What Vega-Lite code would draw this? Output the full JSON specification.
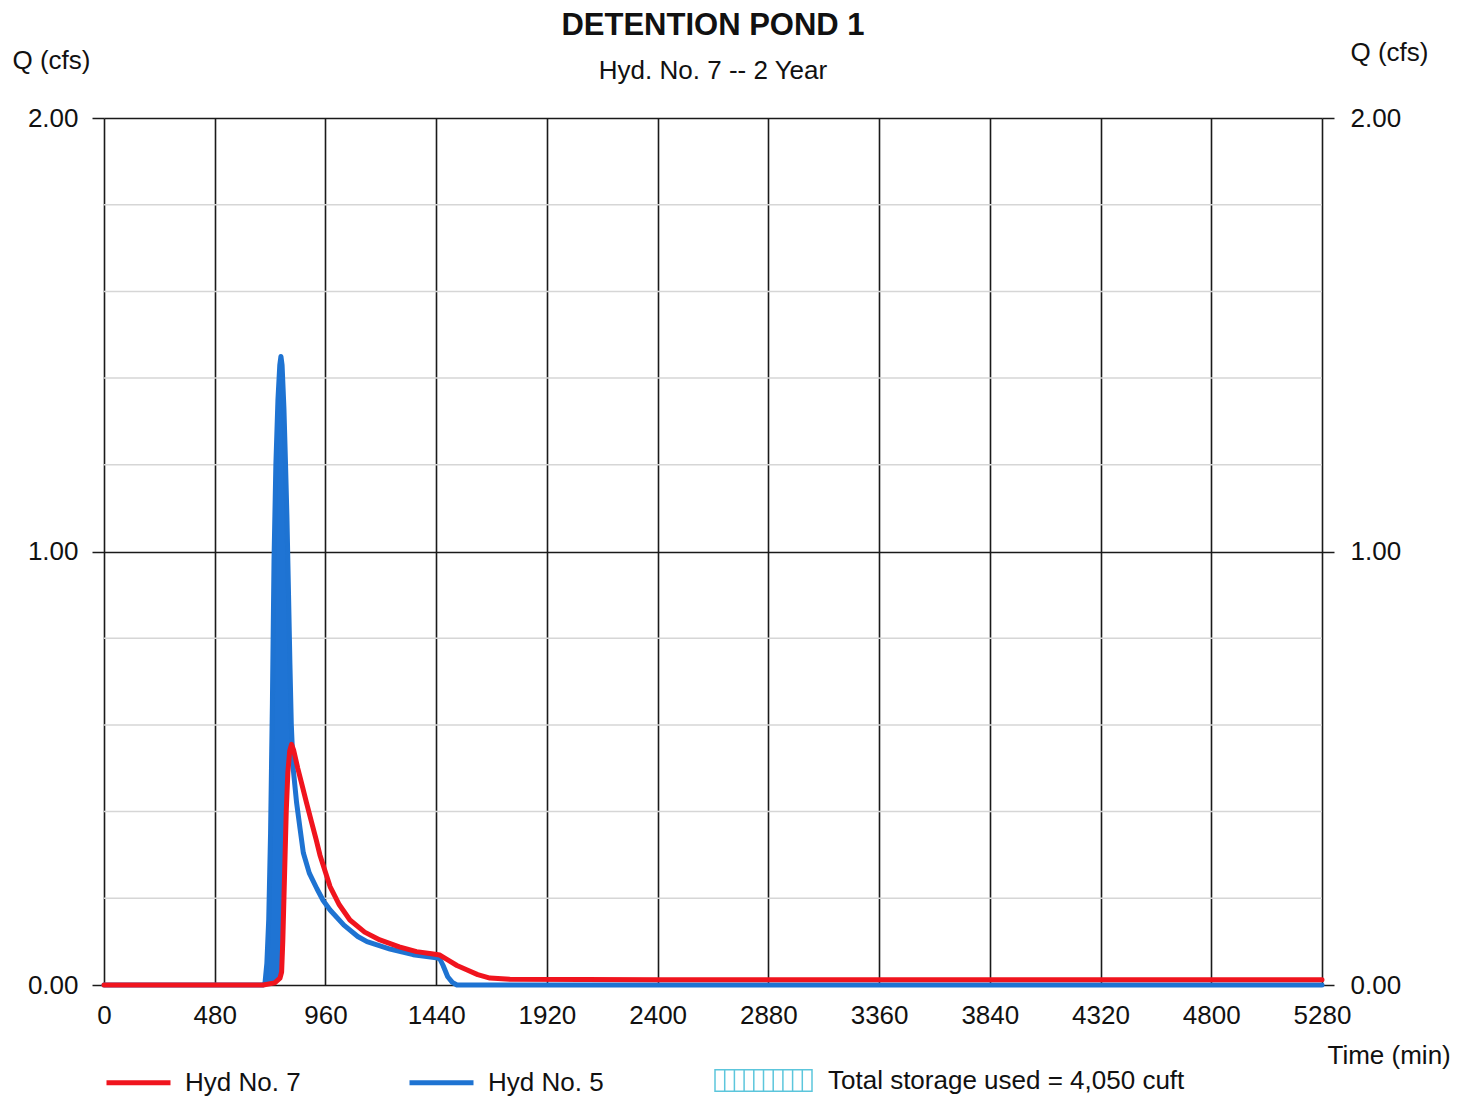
{
  "$schema": "https://vega.github.io/schema/vega-lite/v6.json",
  "width": 1218,
  "height": 867,
  "autosize": {"type": "none"},
  "padding": {"left": 104, "top": 118, "right": 146, "bottom": 112},
  "background": "white",
  "config": {
    "font": "Liberation Sans",
    "view": {"stroke": null},
    "axis": {"labelFont": "Liberation Sans", "titleFont": "Liberation Sans", "labelColor": "#111", "titleColor": "#111", "labelFontSize": 26, "titleFontSize": 26, "titleFontWeight": "normal"}
  },
  "title": {
    "text": "DETENTION POND 1",
    "subtitle": "Hyd. No. 7 -- 2 Year",
    "anchor": "middle",
    "font": "Liberation Sans",
    "fontSize": 31,
    "fontWeight": "bold",
    "color": "#111",
    "subtitleFont": "Liberation Sans",
    "subtitleFontSize": 26,
    "subtitleColor": "#111",
    "subtitlePadding": 16,
    "offset": -46
  },
  "datasets": {
    "minor": [{"v": 0.2}, {"v": 0.4}, {"v": 0.6}, {"v": 0.8}, {"v": 1.2}, {"v": 1.4}, {"v": 1.6}, {"v": 1.8}],
    "storage": [
      {"t": 698, "hi": 0.005, "lo": 0, "label": "Total storage used = 4,050 cuft"},
      {"t": 706, "hi": 0.05, "lo": 0, "label": "Total storage used = 4,050 cuft"},
      {"t": 714, "hi": 0.15, "lo": 0.001, "label": "Total storage used = 4,050 cuft"},
      {"t": 722, "hi": 0.35, "lo": 0.002, "label": "Total storage used = 4,050 cuft"},
      {"t": 730, "hi": 0.65, "lo": 0.003, "label": "Total storage used = 4,050 cuft"},
      {"t": 737, "hi": 0.98, "lo": 0.004, "label": "Total storage used = 4,050 cuft"},
      {"t": 745, "hi": 1.2, "lo": 0.006, "label": "Total storage used = 4,050 cuft"},
      {"t": 754, "hi": 1.35, "lo": 0.01, "label": "Total storage used = 4,050 cuft"},
      {"t": 762, "hi": 1.43, "lo": 0.015, "label": "Total storage used = 4,050 cuft"},
      {"t": 767, "hi": 1.45, "lo": 0.02, "label": "Total storage used = 4,050 cuft"},
      {"t": 772, "hi": 1.43, "lo": 0.035, "label": "Total storage used = 4,050 cuft"},
      {"t": 780, "hi": 1.33, "lo": 0.2, "label": "Total storage used = 4,050 cuft"},
      {"t": 787, "hi": 1.2, "lo": 0.34, "label": "Total storage used = 4,050 cuft"},
      {"t": 793, "hi": 1.08, "lo": 0.44, "label": "Total storage used = 4,050 cuft"},
      {"t": 800, "hi": 0.9, "lo": 0.5, "label": "Total storage used = 4,050 cuft"},
      {"t": 806, "hi": 0.74, "lo": 0.54, "label": "Total storage used = 4,050 cuft"},
      {"t": 812, "hi": 0.6, "lo": 0.555, "label": "Total storage used = 4,050 cuft"},
      {"t": 815, "hi": 0.556, "lo": 0.555, "label": "Total storage used = 4,050 cuft"}
    ],
    "flows": [
      {"s": "Hyd No. 5", "t": 0, "q": 0},
      {"s": "Hyd No. 5", "t": 480, "q": 0},
      {"s": "Hyd No. 5", "t": 690, "q": 0},
      {"s": "Hyd No. 5", "t": 698, "q": 0.005},
      {"s": "Hyd No. 5", "t": 706, "q": 0.05},
      {"s": "Hyd No. 5", "t": 714, "q": 0.15},
      {"s": "Hyd No. 5", "t": 722, "q": 0.35},
      {"s": "Hyd No. 5", "t": 730, "q": 0.65},
      {"s": "Hyd No. 5", "t": 737, "q": 0.98},
      {"s": "Hyd No. 5", "t": 745, "q": 1.2},
      {"s": "Hyd No. 5", "t": 754, "q": 1.35},
      {"s": "Hyd No. 5", "t": 762, "q": 1.43},
      {"s": "Hyd No. 5", "t": 767, "q": 1.45},
      {"s": "Hyd No. 5", "t": 772, "q": 1.43},
      {"s": "Hyd No. 5", "t": 780, "q": 1.33},
      {"s": "Hyd No. 5", "t": 787, "q": 1.2},
      {"s": "Hyd No. 5", "t": 793, "q": 1.08},
      {"s": "Hyd No. 5", "t": 800, "q": 0.9},
      {"s": "Hyd No. 5", "t": 806, "q": 0.74},
      {"s": "Hyd No. 5", "t": 812, "q": 0.6},
      {"s": "Hyd No. 5", "t": 820, "q": 0.5},
      {"s": "Hyd No. 5", "t": 835, "q": 0.42},
      {"s": "Hyd No. 5", "t": 850, "q": 0.36},
      {"s": "Hyd No. 5", "t": 864, "q": 0.305},
      {"s": "Hyd No. 5", "t": 890, "q": 0.258},
      {"s": "Hyd No. 5", "t": 923, "q": 0.222},
      {"s": "Hyd No. 5", "t": 950, "q": 0.195},
      {"s": "Hyd No. 5", "t": 980, "q": 0.173},
      {"s": "Hyd No. 5", "t": 1040, "q": 0.138},
      {"s": "Hyd No. 5", "t": 1100, "q": 0.112},
      {"s": "Hyd No. 5", "t": 1140, "q": 0.1},
      {"s": "Hyd No. 5", "t": 1240, "q": 0.083},
      {"s": "Hyd No. 5", "t": 1340, "q": 0.07},
      {"s": "Hyd No. 5", "t": 1440, "q": 0.063},
      {"s": "Hyd No. 5", "t": 1456, "q": 0.06},
      {"s": "Hyd No. 5", "t": 1470, "q": 0.045},
      {"s": "Hyd No. 5", "t": 1490, "q": 0.019},
      {"s": "Hyd No. 5", "t": 1510, "q": 0.006},
      {"s": "Hyd No. 5", "t": 1530, "q": 0},
      {"s": "Hyd No. 5", "t": 5280, "q": 0},
      {"s": "Hyd No. 7", "t": 0, "q": 0},
      {"s": "Hyd No. 7", "t": 480, "q": 0},
      {"s": "Hyd No. 7", "t": 690, "q": 0},
      {"s": "Hyd No. 7", "t": 740, "q": 0.005},
      {"s": "Hyd No. 7", "t": 763, "q": 0.016},
      {"s": "Hyd No. 7", "t": 770, "q": 0.03},
      {"s": "Hyd No. 7", "t": 775, "q": 0.1},
      {"s": "Hyd No. 7", "t": 780, "q": 0.2},
      {"s": "Hyd No. 7", "t": 785, "q": 0.3},
      {"s": "Hyd No. 7", "t": 790, "q": 0.4},
      {"s": "Hyd No. 7", "t": 797, "q": 0.49},
      {"s": "Hyd No. 7", "t": 805, "q": 0.54},
      {"s": "Hyd No. 7", "t": 813, "q": 0.555},
      {"s": "Hyd No. 7", "t": 822, "q": 0.542},
      {"s": "Hyd No. 7", "t": 840, "q": 0.5},
      {"s": "Hyd No. 7", "t": 860, "q": 0.458},
      {"s": "Hyd No. 7", "t": 878, "q": 0.42},
      {"s": "Hyd No. 7", "t": 900, "q": 0.375},
      {"s": "Hyd No. 7", "t": 920, "q": 0.335},
      {"s": "Hyd No. 7", "t": 936, "q": 0.3},
      {"s": "Hyd No. 7", "t": 960, "q": 0.26},
      {"s": "Hyd No. 7", "t": 980, "q": 0.227},
      {"s": "Hyd No. 7", "t": 1020, "q": 0.185},
      {"s": "Hyd No. 7", "t": 1066, "q": 0.15},
      {"s": "Hyd No. 7", "t": 1130, "q": 0.122},
      {"s": "Hyd No. 7", "t": 1196, "q": 0.104},
      {"s": "Hyd No. 7", "t": 1280, "q": 0.088},
      {"s": "Hyd No. 7", "t": 1355, "q": 0.077},
      {"s": "Hyd No. 7", "t": 1420, "q": 0.072},
      {"s": "Hyd No. 7", "t": 1456, "q": 0.069},
      {"s": "Hyd No. 7", "t": 1490, "q": 0.058},
      {"s": "Hyd No. 7", "t": 1530, "q": 0.045},
      {"s": "Hyd No. 7", "t": 1572, "q": 0.035},
      {"s": "Hyd No. 7", "t": 1620, "q": 0.024},
      {"s": "Hyd No. 7", "t": 1673, "q": 0.016},
      {"s": "Hyd No. 7", "t": 1760, "q": 0.013},
      {"s": "Hyd No. 7", "t": 2400, "q": 0.012},
      {"s": "Hyd No. 7", "t": 5280, "q": 0.012}
    ]
  },
  "layer": [
    {
      "data": {"name": "minor"},
      "mark": {"type": "rule", "color": "#d6d6d6", "strokeWidth": 1.5},
      "encoding": {
        "y": {
          "field": "v", "type": "quantitative",
          "scale": {"domain": [0, 2], "nice": false, "zero": false},
          "axis": {
            "orient": "left", "values": [0, 1, 2], "format": ".2f",
            "grid": true, "gridColor": "#1a1a1a", "gridWidth": 1.6,
            "domain": false, "ticks": true, "tickSize": 12, "tickColor": "#1a1a1a", "tickWidth": 1.5,
            "labelPadding": 14, "labelFlush": false, "labelOverlap": false,
            "title": "Q (cfs)", "titleAngle": 0, "titleAlign": "left", "titleBaseline": "middle",
            "titleX": -92, "titleY": -58
          }
        }
      }
    },
    {
      "data": {"name": "storage"},
      "mark": {"type": "area", "fill": "#1f74d4", "opacity": 1},
      "encoding": {
        "x": {
          "field": "t", "type": "quantitative",
          "scale": {"domain": [0, 5280], "nice": false, "zero": false},
          "axis": {
            "values": [0, 480, 960, 1440, 1920, 2400, 2880, 3360, 3840, 4320, 4800, 5280],
            "format": "d", "grid": true, "gridColor": "#1a1a1a", "gridWidth": 1.6,
            "domain": false, "ticks": false, "labelPadding": 17, "labelFlush": false, "labelOverlap": false,
            "title": "Time (min)", "titleAngle": 0, "titleAlign": "left", "titleBaseline": "middle",
            "titleX": 1223, "titleY": 70
          }
        },
        "y": {"field": "hi", "type": "quantitative", "scale": {"domain": [0, 2], "nice": false, "zero": false}, "axis": null},
        "y2": {"field": "lo"}
      }
    },
    {
      "data": {"name": "storage"},
      "mark": {"type": "line", "opacity": 0, "strokeWidth": 1},
      "encoding": {
        "x": {
          "field": "t", "type": "quantitative",
          "scale": {"domain": [0, 5280], "nice": false, "zero": false},
          "axis": {
            "values": [0, 480, 960, 1440, 1920, 2400, 2880, 3360, 3840, 4320, 4800, 5280],
            "format": "d", "grid": true, "gridColor": "#1a1a1a", "gridWidth": 1.6,
            "domain": false, "ticks": false, "labelPadding": 17, "labelFlush": false, "labelOverlap": false,
            "title": "Time (min)", "titleAngle": 0, "titleAlign": "left", "titleBaseline": "middle",
            "titleX": 1223, "titleY": 70
          }
        },
        "y": {"field": "hi", "type": "quantitative", "scale": {"domain": [0, 2], "nice": false, "zero": false}, "axis": null},
        "stroke": {
          "field": "label", "type": "nominal",
          "scale": {"range": ["#5cc6dc"]},
          "legend": {
            "orient": "none", "legendX": 610, "legendY": 913, "title": null, "padding": 0,
            "symbolType": "M-1,-0.22H1V0.22H-1Z M-0.8,-0.22V0.22 M-0.6,-0.22V0.22 M-0.4,-0.22V0.22 M-0.2,-0.22V0.22 M0,-0.22V0.22 M0.2,-0.22V0.22 M0.4,-0.22V0.22 M0.6,-0.22V0.22 M0.8,-0.22V0.22",
            "symbolSize": 9409, "symbolStrokeWidth": 1.5, "symbolOpacity": 1, "symbolFillColor": "transparent",
            "labelFont": "Liberation Sans", "labelFontSize": 26, "labelColor": "#111", "labelOffset": 15, "labelLimit": 500
          }
        }
      }
    },
    {
      "data": {"name": "flows"},
      "mark": {"type": "line", "strokeWidth": 5, "strokeJoin": "round", "strokeCap": "round"},
      "encoding": {
        "x": {
          "field": "t", "type": "quantitative",
          "scale": {"domain": [0, 5280], "nice": false, "zero": false},
          "axis": {
            "values": [0, 480, 960, 1440, 1920, 2400, 2880, 3360, 3840, 4320, 4800, 5280],
            "format": "d", "grid": true, "gridColor": "#1a1a1a", "gridWidth": 1.6,
            "domain": false, "ticks": false, "labelPadding": 17, "labelFlush": false, "labelOverlap": false,
            "title": "Time (min)", "titleAngle": 0, "titleAlign": "left", "titleBaseline": "middle",
            "titleX": 1223, "titleY": 70
          }
        },
        "y": {
          "field": "q", "type": "quantitative",
          "scale": {"domain": [0, 2], "nice": false, "zero": false},
          "axis": {
            "orient": "right", "values": [0, 1, 2], "format": ".2f", "grid": false,
            "domain": false, "ticks": true, "tickSize": 12, "tickColor": "#1a1a1a", "tickWidth": 1.5,
            "labelPadding": 16, "labelFlush": false, "labelOverlap": false,
            "title": "Q (cfs)", "titleAngle": 0, "titleAlign": "left", "titleBaseline": "middle",
            "titleX": 28, "titleY": -66
          }
        },
        "color": {
          "field": "s", "type": "nominal",
          "scale": {"domain": ["Hyd No. 7", "Hyd No. 5"], "range": ["#f0141e", "#1e73d2"]},
          "legend": {
            "orient": "none", "legendX": 0, "legendY": 930, "direction": "horizontal", "title": null, "padding": 0,
            "symbolType": "stroke", "symbolSize": 4096, "symbolStrokeWidth": 5,
            "labelFont": "Liberation Sans", "labelFontSize": 26, "labelColor": "#111", "labelOffset": 12,
            "gridAlign": "all", "columnPadding": 98
          }
        },
        "order": {"field": "s", "sort": "ascending"}
      }
    }
  ],
  "resolve": {"scale": {"y": "independent"}, "axis": {"y": "independent"}}
}
